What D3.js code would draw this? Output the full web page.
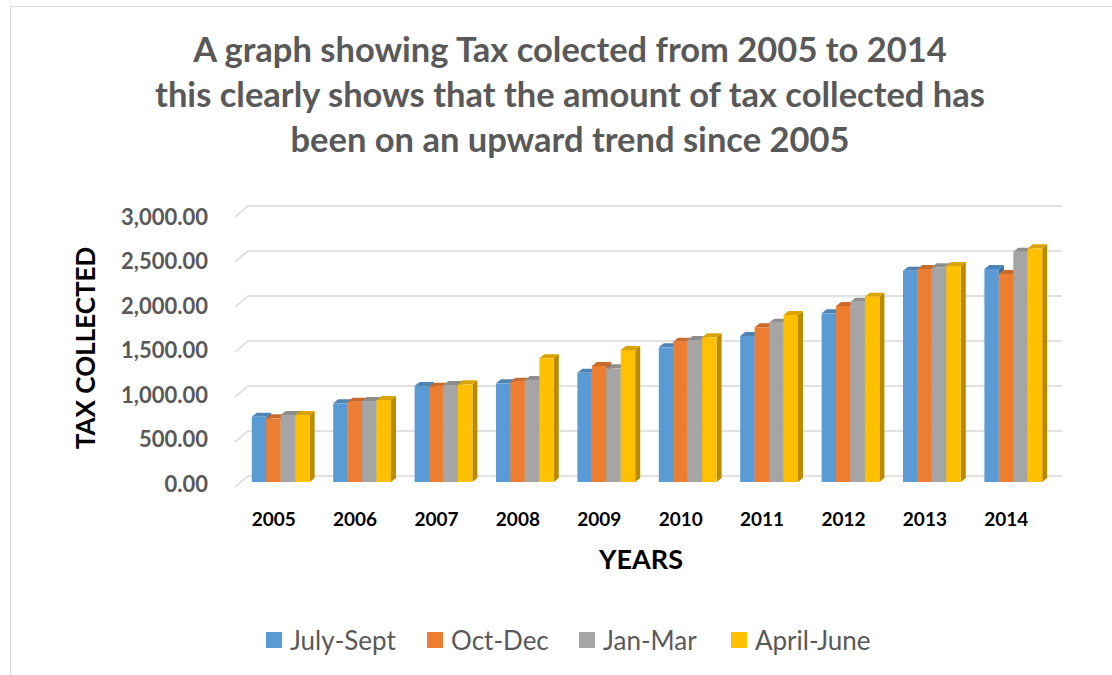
<!DOCTYPE html>
<html>
<head>
<meta charset="utf-8">
<script src="https://cdn.jsdelivr.net/npm/d3@7"></script>
<style>
  html, body { margin: 0; padding: 0; background: #ffffff; }
  svg { display: block; font-family: Lato, "Open Sans", sans-serif; }
</style>
</head>
<body>
<svg id="chart" width="1112" height="675"></svg>
<script>
// Quarterly tax collected per year
const years = ["2005", "2006", "2007", "2008", "2009", "2010", "2011", "2012", "2013", "2014"];
const seriesNames = ["July-Sept", "Oct-Dec", "Jan-Mar", "April-June"];
const julySept  = [725, 874, 1067, 1096, 1215, 1496, 1622, 1874, 2348, 2367];
const octDec    = [707, 892, 1059, 1115, 1289, 1559, 1719, 1956, 2367, 2311];
const janMar    = [744, 900, 1078, 1133, 1263, 1578, 1770, 2004, 2385, 2559];
const aprilJune = [744, 911, 1085, 1374, 1467, 1607, 1856, 2059, 2400, 2596];
const yTicks = [0, 500, 1000, 1500, 2000, 2500, 3000];
const titleLines = [
  "A graph showing Tax colected from 2005 to 2014",
  "this clearly shows that the amount of tax collected has",
  "been on an upward trend since 2005"
];

const seriesValues = [julySept, octDec, janMar, aprilJune];
const colors = ["#5B9BD5", "#ED7D31", "#A5A5A5", "#FFC000"];

const svg = d3.select("#chart");

// chart area frame
svg.append("rect")
  .attr("x", 10.5).attr("y", 6.5)
  .attr("width", 1120).attr("height", 700)
  .attr("fill", "#fff").attr("stroke", "#d9d9d9").attr("stroke-width", 1);

// front plane of the 3-D plot
const x = d3.scaleBand().domain(years).range([235, 1049])
  .paddingInner(0.29).paddingOuter(0.145);
const xs = d3.scaleBand().domain(seriesNames).range([0, x.bandwidth()]);
const y = d3.scaleLinear().domain([0, 3000]).range([487, 217]);
// tick labels follow the slightly foreshortened left wall
const yLabel = d3.scaleLinear().domain([0, 3000]).range([483, 216.5]);

// depth offsets (oblique projection)
const wall = { dx: 13, dy: -11 };   // back wall
const barOff = { dx: 5, dy: -5 };   // bars sit behind the front edge
const barDepth = { dx: 5, dy: -4 };

// gridlines on the back wall with the side-wall diagonal
const grid = svg.append("g");
yTicks.forEach(t => {
  const yf = y(t);
  grid.append("path")
    .attr("d", `M${x.range()[0]},${yf} L${x.range()[0] + wall.dx},${yf + wall.dy} L${x.range()[1] + wall.dx},${yf + wall.dy}`)
    .attr("fill", "none").attr("stroke", "#d9d9d9").attr("stroke-width", 1.5);
});

// y tick labels
svg.append("g").selectAll("text").data(yTicks).join("text")
  .attr("x", 208).attr("y", d => yLabel(d))
  .attr("text-anchor", "end").attr("dominant-baseline", "central")
  .attr("font-size", 22).attr("font-weight", 700).attr("fill", "#595959")
  .text(d => d3.format(",.2f")(d));

// 3-D columns
function shade(c, k) { return d3.color(c).darker(k).formatHex(); }
const bars = svg.append("g");
years.forEach((yr, i) => {
  seriesNames.forEach((s, j) => {
    const v = seriesValues[j][i];
    const x0 = x(yr) + xs(s) + barOff.dx;
    const w = xs.bandwidth();
    const yb = y(0) + barOff.dy;
    const yt = y(v) + barOff.dy;
    const c = colors[j];
    const g = bars.append("g");
    // side face
    g.append("path")
      .attr("d", `M${x0 + w},${yt} L${x0 + w + barDepth.dx},${yt + barDepth.dy} L${x0 + w + barDepth.dx},${yb + barDepth.dy} L${x0 + w},${yb} Z`)
      .attr("fill", shade(c, 0.9));
    // top face
    g.append("path")
      .attr("d", `M${x0},${yt} L${x0 + barDepth.dx},${yt + barDepth.dy} L${x0 + w + barDepth.dx},${yt + barDepth.dy} L${x0 + w},${yt} Z`)
      .attr("fill", shade(c, 0.45));
    // front face
    g.append("rect")
      .attr("x", x0).attr("y", yt).attr("width", w).attr("height", yb - yt)
      .attr("fill", c);
  });
});

// x tick labels
svg.append("g").selectAll("text").data(years).join("text")
  .attr("x", d => x(d) + x.bandwidth() / 2 - 2).attr("y", 518)
  .attr("text-anchor", "middle").attr("dominant-baseline", "central")
  .attr("font-size", 19).attr("font-weight", 700).attr("fill", "#000")
  .text(d => d);

// axis titles
svg.append("text")
  .attr("x", 641).attr("y", 558)
  .attr("text-anchor", "middle").attr("dominant-baseline", "central")
  .attr("font-size", 27).attr("font-weight", 700).attr("fill", "#000")
  .text("YEARS");
svg.append("text")
  .attr("transform", "translate(85,348) rotate(-90)")
  .attr("text-anchor", "middle").attr("dominant-baseline", "central")
  .attr("font-size", 26).attr("font-weight", 700).attr("fill", "#000")
  .text("TAX COLLECTED");

// title
svg.append("g").selectAll("text").data(titleLines).join("text")
  .attr("x", 570).attr("y", (d, i) => 48 + i * 45)
  .attr("text-anchor", "middle").attr("dominant-baseline", "central")
  .attr("font-size", 34.5).attr("font-weight", 700).attr("fill", "#595959")
  .text(d => d);

// legend
const legendX = [266, 427, 579, 731];
const legend = svg.append("g").selectAll("g").data(seriesNames).join("g")
  .attr("transform", (d, i) => `translate(${legendX[i]},640)`);
legend.append("rect").attr("x", 0).attr("y", -8).attr("width", 16).attr("height", 16)
  .attr("fill", (d, i) => colors[i]);
legend.append("text").attr("x", 24).attr("y", 0)
  .attr("dominant-baseline", "central")
  .attr("font-size", 26).attr("fill", "#595959")
  .text(d => d);
</script>
</body>
</html>
